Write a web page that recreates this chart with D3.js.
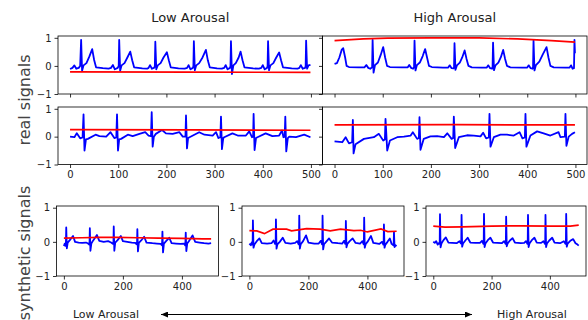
<!DOCTYPE html>
<html>
<head>
<meta charset="utf-8">
<script src="https://cdn.jsdelivr.net/npm/d3@7"></script>
<style>
  body { margin: 0; background: #fff; }
  svg { display: block; }
  text { font-family: "DejaVu Sans", sans-serif; }
</style>
</head>
<body>
<svg id="chart"></svg>
<script>
// ---- data (sample index, amplitude) ----
const realTicksX = [0, 100, 200, 300, 400, 500];
const synthTicksX = [0, 200, 400];
const ticksY = [-1, 0, 1];

// real / low arousal, first record
const realLow1Blue = [
  [0,-0.11],[5,-0.07],[9,0.02],[13,-0.1],[18,-0.07],[21,0.0],[23,0.93],[25,-0.17],[28,0.02],[34,0.1],[40,0.33],[46,0.6],[50,0.21],[54,-0.05],[68,-0.08],[80,-0.1],
  [85,-0.07],[89,0.03],[93,-0.12],[99,-0.07],[101,0.0],[102,0.93],[104,-0.17],[107,0.02],[113,0.1],[119,0.3],[125,0.51],[129,0.2],[133,-0.05],[150,-0.09],[160,-0.1],
  [163,-0.07],[166,0.03],[170,-0.1],[175,-0.06],[176,0.0],[177,0.86],[179,-0.12],[182,0.02],[188,0.1],[194,0.3],[201,0.49],[205,0.2],[209,-0.05],[225,-0.09],[238,-0.1],
  [243,-0.07],[246,0.03],[250,-0.12],[255,-0.07],[256,0.0],[257,0.88],[259,-0.15],[262,0.02],[268,0.1],[275,0.3],[282,0.57],[286,0.2],[290,-0.05],[305,-0.09],[315,-0.1],
  [320,-0.07],[323,0.03],[327,-0.12],[332,-0.07],[333,0.0],[334,0.88],[336,-0.29],[339,0.02],[344,0.1],[350,0.3],[354,0.51],[358,0.2],[362,-0.05],[380,-0.09],[392,-0.1],
  [397,-0.07],[400,0.03],[404,-0.12],[409,-0.07],[410,0.0],[411,0.88],[413,-0.15],[416,0.02],[422,0.1],[428,0.3],[434,0.48],[438,0.2],[442,-0.05],[460,-0.09],[472,-0.1],
  [476,-0.07],[479,0.03],[483,-0.1],[488,-0.07],[489,0.0],[490,0.9],[492,-0.1],[495,0.02],[499,0.04]
];
const realLow1Red = [[0,-0.21],[250,-0.22],[499,-0.23]];

// real / high arousal, first record
const realHigh1Blue = [
  [0,0.07],[5,0.1],[10,0.3],[15,0.58],[18,0.63],[22,0.3],[25,0.0],[30,-0.04],[50,-0.05],[62,-0.05],[66,0.03],[70,-0.07],[74,-0.1],[78,-0.05],[79,0.93],[81,-0.24],[84,0.03],
  [90,0.12],[96,0.4],[101,0.67],[105,0.3],[109,0.0],[115,-0.04],[140,-0.05],[152,-0.05],[155,0.03],[159,-0.07],[163,-0.1],[165,-0.05],[166,0.9],[168,-0.16],[171,0.03],
  [177,0.12],[183,0.35],[188,0.6],[192,0.3],[196,0.0],[202,-0.04],[225,-0.06],[236,-0.06],[239,0.02],[243,-0.08],[247,-0.09],[248,-0.05],[249,0.81],[251,-0.14],[254,0.02],
  [260,0.12],[265,0.3],[270,0.55],[274,0.25],[278,0.0],[285,-0.05],[305,-0.06],[316,-0.06],[319,0.02],[323,-0.08],[327,-0.1],[328,-0.05],[329,0.83],[331,-0.15],[334,0.02],
  [340,0.12],[345,0.3],[350,0.57],[354,0.25],[358,0.0],[365,-0.05],[390,-0.06],[400,-0.06],[403,0.02],[407,-0.08],[411,-0.1],[412,-0.05],[413,0.9],[415,-0.16],[418,0.03],
  [425,0.15],[432,0.4],[440,0.67],[444,0.3],[448,0.0],[455,-0.05],[480,-0.06],[488,-0.06],[491,0.02],[494,-0.1],[497,-0.08],[498,0.93],[499,0.45]
];
const realHigh1Red = [[0,0.9],[60,0.96],[110,0.99],[200,1.0],[300,1.0],[380,0.96],[450,0.9],[499,0.85]];

// real / low arousal, second record
const realLow2Blue = [
  [0,0],[9,-0.02],[14,0.12],[21,-0.06],[26,-0.03],[28,0.8],[30,-0.5],[33,-0.1],[37,-0.08],[53,0.07],[61,0.02],[75,0],[84,0.16],[92,-0.05],[96,-0.03],
  [97.5,0.8],[99.5,-0.5],[102,-0.1],[106,-0.08],[120,0.07],[130,0.02],[144,0.1],[156,0.16],[163,0.04],[168,0.02],[169.5,0.88],[171.5,-0.36],[174,0.0],
  [178,0.1],[191,0.24],[199,0.12],[213,0.1],[227,0.16],[234,0],[239.5,0.0],[240.7,0.76],[242.7,-0.42],[245,-0.05],[248,-0.02],[268,0.16],[279,0.07],
  [296,0.04],[303,0.16],[308,-0.05],[312,-0.02],[313.3,0.72],[315.3,-0.45],[318,-0.05],[320,-0.02],[337,0.12],[348,0.04],[365,0.04],[372,0.19],
  [377.6,-0.02],[380,0],[381,0.82],[383,-0.48],[386,-0.05],[389,-0.02],[406,0.12],[420,0.02],[434,0.04],[440,0.22],[443,-0.02],[445.5,0],
  [446.8,0.72],[448.8,-0.53],[452,-0.05],[455,0],[469,-0.02],[486,0.07],[499,-0.02]
];
const realLow2Red = [[0,0.25],[250,0.24],[499,0.23]];

// real / high arousal, second record
const realHigh2Blue = [
  [0,-0.17],[16,-0.2],[23,-0.02],[30,-0.24],[36.5,-0.2],[38,0.6],[39.5,-0.6],[43.6,-0.27],[61,-0.08],[81.6,-0.02],[92,0.1],[101,-0.14],[104.5,-0.1],
  [105.8,0.64],[109.3,-0.5],[115,-0.14],[130,-0.02],[144,0.0],[158,0.04],[162.5,0.16],[171.5,-0.08],[175,-0.05],[176.3,0.7],[178.4,-0.47],[185,-0.08],
  [199,0.01],[213,0.02],[227,-0.02],[234,0.12],[243,-0.08],[246.3,-0.05],[247.6,0.72],[250.4,-0.41],[258,-0.02],[275,0.05],[289,0.04],[303,0.01],
  [308.4,0.14],[314.7,-0.06],[320.2,-0.03],[321.6,0.82],[323.7,-0.36],[330.6,-0.02],[344.4,0.07],[358,0.07],[372,0.04],[384,0.16],[390,-0.06],
  [395,-0.03],[396.3,0.82],[398.3,-0.36],[406.6,0.04],[420.5,0.19],[434,0.12],[448,0.04],[465,0.16],[469,-0.02],[478,0.0],[479.3,0.82],[481.3,-0.33],
  [486,0.0],[493,0.1],[499,0.16]
];
const realHigh2Red = [[0,0.42],[250,0.43],[499,0.42]];

// synthetic: low -> mid -> high arousal
const synthLowBlue = [
  [0,-0.12],[3,-0.05],[5,-0.12],[7,0.0],[8,0.42],[10,-0.19],[13,-0.02],[20,0.05],[31,0.17],[38,0.0],[50,-0.02],[62,-0.03],[75,-0.02],[82,-0.05],[86,-0.08],
  [87,0.0],[88,0.4],[90,-0.26],[93,-0.05],[100,0.05],[112,0.2],[120,0.03],[135,0.0],[150,0.02],[160,-0.02],[166,-0.06],[168,0.0],[169,0.45],[171,-0.26],
  [174,-0.02],[182,0.05],[193,0.17],[200,0.02],[215,0.0],[230,-0.02],[242,-0.03],[246,-0.07],[248,0.0],[249,0.37],[251,-0.28],[254,-0.03],[262,0.04],
  [272,0.15],[280,-0.02],[300,-0.04],[315,-0.05],[328,-0.06],[332,-0.1],[333,0.0],[334,0.3],[336,-0.31],[339,-0.05],[347,0.03],[357,0.12],[365,-0.04],
  [380,-0.05],[395,-0.06],[408,-0.05],[411,-0.1],[412,0.0],[413,0.27],[415,-0.27],[418,-0.05],[426,0.05],[436,0.19],[445,0.0],[460,-0.02],[475,-0.04],
  [490,-0.05],[499,-0.04]
];
const synthLowRed = [[0,0.11],[60,0.12],[120,0.13],[180,0.13],[250,0.12],[320,0.11],[400,0.1],[470,0.09],[499,0.09]];

const synthMidBlue = [
  [0,-0.05],[5,-0.1],[8,-0.02],[11,-0.08],[12,0.63],[14,-0.17],[17,-0.08],[25,0.02],[34,0.1],[42,-0.04],[60,-0.05],[75,-0.04],[82,0.04],[87,-0.06],[89,-0.04],
  [90,0.66],[92,-0.2],[95,-0.07],[103,0.0],[113,0.12],[122,-0.03],[140,-0.05],[155,-0.03],[162,0.02],[167,-0.07],[168,-0.04],[169,0.77],[171,-0.2],[174,-0.07],
  [182,0.02],[192,0.19],[200,-0.02],[220,-0.05],[235,-0.05],[242,0.03],[246,-0.07],[247,-0.04],[248,0.77],[250,-0.22],[253,-0.07],[260,0.0],[270,0.1],
  [280,-0.02],[300,-0.04],[315,-0.05],[321,0.03],[325,-0.06],[326,-0.04],[327,0.61],[329,-0.16],[332,-0.06],[340,0.02],[350,0.1],[360,-0.03],[375,-0.05],
  [383,0.02],[387,-0.07],[388,-0.04],[389,0.71],[391,-0.17],[394,-0.07],[402,0.02],[412,0.17],[420,-0.03],[440,-0.06],[450,0.0],[454,-0.08],[455,-0.05],
  [456,0.51],[458,-0.17],[461,-0.08],[468,0.0],[476,0.1],[482,-0.06],[488,-0.1],[489,-0.06],[490,0.29],[492,-0.15],[495,-0.1],[499,-0.12]
];
const synthMidRed = [
  [0,0.33],[25,0.32],[51,0.24],[80,0.37],[126,0.37],[143,0.32],[194,0.39],[240,0.37],[274,0.32],[309,0.37],[354,0.33],[377,0.34],[400,0.29],[446,0.38],[469,0.3],[499,0.31]
];

const synthHighBlue = [
  [0,0.0],[5,-0.03],[10,0.02],[15,-0.08],[20,-0.03],[22,-0.06],[23,0.81],[25,-0.16],[28,-0.05],[35,0.05],[43,0.13],[52,-0.02],[65,-0.03],[80,-0.04],[90,0.02],
  [95,-0.05],[96,-0.02],[97,0.79],[99,-0.14],[102,-0.05],[110,0.04],[118,0.12],[127,-0.02],[145,-0.03],[160,-0.03],[167,0.03],[172,-0.06],[173,-0.03],
  [174,0.82],[176,-0.15],[179,-0.05],[187,0.05],[196,0.12],[205,-0.02],[220,-0.03],[235,-0.04],[243,0.02],[248,-0.06],[249,-0.03],[250,0.74],[252,-0.13],
  [255,-0.05],[263,0.04],[272,0.11],[280,-0.02],[300,-0.04],[312,-0.03],[318,0.02],[323,-0.06],[324,-0.03],[325,0.79],[327,-0.15],[330,-0.05],[338,0.05],
  [347,0.12],[355,-0.02],[370,-0.03],[378,0.02],[383,-0.06],[384,-0.03],[385,0.79],[387,-0.15],[390,-0.05],[398,0.04],[408,0.12],[416,-0.02],[435,-0.04],
  [448,0.02],[454,-0.06],[455,-0.03],[456,0.82],[458,-0.14],[461,-0.05],[470,0.03],[480,0.08],[488,-0.04],[495,-0.08],[499,-0.11]
];
const synthHighRed = [[0,0.46],[40,0.43],[100,0.44],[200,0.46],[300,0.47],[400,0.46],[470,0.46],[499,0.49]];

const columnTitles = ['Low Arousal', 'High Arousal'];
const rowTitles = ['real signals', 'synthetic signals'];
const arrowLabels = ['Low Arousal', 'High Arousal'];

// ---- layout ----
const width = 588;
const height = 320;
const xDomain = [-25, 524];

const panels = [
  { left: 58, top: 36, w: 264.5, h: 58, yDom: [-1, 1.065], xTicks: realTicksX, xLab: false, yLab: true, blue: realLow1Blue, red: realLow1Red },
  { left: 322.5, top: 36, w: 264.5, h: 58, yDom: [-1, 1.065], xTicks: realTicksX, xLab: false, yLab: false, blue: realHigh1Blue, red: realHigh1Red },
  { left: 58, top: 107, w: 264.5, h: 57.5, yDom: [-1, 1.065], xTicks: realTicksX, xLab: true, yLab: true, blue: realLow2Blue, red: realLow2Red },
  { left: 322.5, top: 107, w: 264.5, h: 57.5, yDom: [-1, 1.065], xTicks: realTicksX, xLab: true, yLab: false, blue: realHigh2Blue, red: realHigh2Red },
  { left: 56.5, top: 206, w: 162, h: 70, yDom: [-1, 1.05], xTicks: synthTicksX, xLab: true, yLab: true, blue: synthLowBlue, red: synthLowRed },
  { left: 242, top: 206, w: 162, h: 70, yDom: [-1, 1.05], xTicks: synthTicksX, xLab: true, yLab: true, blue: synthMidBlue, red: synthMidRed },
  { left: 426, top: 206, w: 160, h: 70, yDom: [-1, 1.05], xTicks: synthTicksX, xLab: true, yLab: true, blue: synthHighBlue, red: synthHighRed },
];

const svg = d3.select('#chart').attr('width', width).attr('height', height);
svg.append('rect').attr('width', width).attr('height', height).attr('fill', '#fff');

const defs = svg.append('defs');

function styleAxis(g) {
  g.select('.domain').remove();
  g.selectAll('.tick line').attr('stroke', '#000').attr('stroke-width', 0.8);
  g.selectAll('.tick text')
    .attr('fill', '#222')
    .style('font-family', '"DejaVu Sans", sans-serif')
    .style('font-size', '10px');
}

function drawPanel(p, i) {
  const x = d3.scaleLinear().domain(xDomain).range([p.left, p.left + p.w]);
  const y = d3.scaleLinear().domain(p.yDom).range([p.top + p.h, p.top]);

  defs.append('clipPath')
    .attr('id', `clip-${i}`)
    .append('rect')
    .attr('x', p.left)
    .attr('y', p.top)
    .attr('width', p.w)
    .attr('height', p.h);

  const g = svg.append('g').attr('class', `panel panel-${i}`);

  const line = d3.line()
    .x((d) => x(d[0]))
    .y((d) => y(d[1]));

  const lines = g.append('g').attr('clip-path', `url(#clip-${i})`);
  lines.append('path')
    .datum(p.blue)
    .attr('d', line)
    .attr('fill', 'none')
    .attr('stroke', '#0000ff')
    .attr('stroke-width', 1.8)
    .attr('stroke-linejoin', 'round');
  lines.append('path')
    .datum(p.red)
    .attr('d', line)
    .attr('fill', 'none')
    .attr('stroke', '#ff0000')
    .attr('stroke-width', 1.7);

  // frame
  g.append('rect')
    .attr('x', p.left)
    .attr('y', p.top)
    .attr('width', p.w)
    .attr('height', p.h)
    .attr('fill', 'none')
    .attr('stroke', '#000')
    .attr('stroke-width', 0.8);

  const xAxis = d3.axisBottom(x)
    .tickValues(p.xTicks)
    .tickSize(3.5)
    .tickSizeOuter(0)
    .tickPadding(3)
    .tickFormat(p.xLab ? d3.format('d') : () => '');
  g.append('g')
    .attr('transform', `translate(0,${p.top + p.h})`)
    .call(xAxis)
    .call(styleAxis);

  const yAxis = d3.axisLeft(y)
    .tickValues(ticksY)
    .tickSize(3.5)
    .tickSizeOuter(0)
    .tickPadding(3)
    .tickFormat(p.yLab ? d3.format('d') : () => '');
  g.append('g')
    .attr('transform', `translate(${p.left},0)`)
    .call(yAxis)
    .call(styleAxis);
}

panels.forEach(drawPanel);

// column titles
svg.selectAll('text.col-title')
  .data(columnTitles)
  .enter()
  .append('text')
  .attr('class', 'col-title')
  .attr('x', (d, i) => panels[i].left + panels[i].w / 2)
  .attr('y', 22)
  .attr('text-anchor', 'middle')
  .attr('fill', '#222')
  .style('font-size', '13px')
  .text((d) => d);

// row titles (rotated)
const rowCenters = [100, 253];
svg.selectAll('text.row-title')
  .data(rowTitles)
  .enter()
  .append('text')
  .attr('class', 'row-title')
  .attr('transform', (d, i) => `translate(30,${rowCenters[i]}) rotate(-90)`)
  .attr('text-anchor', 'middle')
  .attr('fill', '#444')
  .style('font-size', '16px')
  .text((d) => d);

// bottom arrow between arousal levels
defs.append('marker')
  .attr('id', 'arrowhead')
  .attr('orient', 'auto-start-reverse')
  .attr('markerUnits', 'userSpaceOnUse')
  .attr('markerWidth', 7)
  .attr('markerHeight', 6)
  .attr('refX', 7)
  .attr('refY', 3)
  .append('path')
  .attr('d', 'M0,0 L7,3 L0,6 Z')
  .attr('fill', '#000');

svg.append('line')
  .attr('x1', 161)
  .attr('x2', 472)
  .attr('y1', 314.5)
  .attr('y2', 314.5)
  .attr('stroke', '#000')
  .attr('stroke-width', 1)
  .attr('marker-start', 'url(#arrowhead)')
  .attr('marker-end', 'url(#arrowhead)');

const arrowLabelX = [106, 532];
svg.selectAll('text.arrow-label')
  .data(arrowLabels)
  .enter()
  .append('text')
  .attr('class', 'arrow-label')
  .attr('x', (d, i) => arrowLabelX[i])
  .attr('y', 318)
  .attr('text-anchor', 'middle')
  .attr('fill', '#222')
  .style('font-size', '11px')
  .text((d) => d);
</script>
</body>
</html>
